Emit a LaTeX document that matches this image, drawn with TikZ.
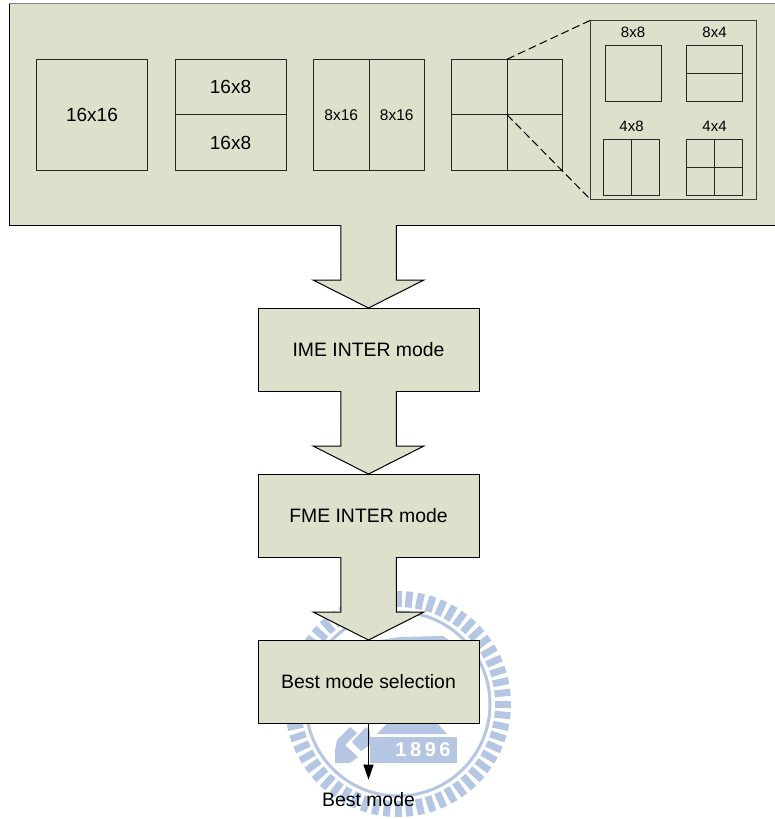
\documentclass[tikz,border=0pt]{standalone}
\usepackage{fontspec}
\setmainfont{Liberation Sans}
\newfontfamily\stampfont[LetterSpace=18]{Liberation Sans}
\usetikzlibrary{positioning, calc, arrows.meta}
\definecolor{panelgreen}{RGB}{221,225,203}
\definecolor{stampblue}{RGB}{180,198,226}

\begin{document}
\begin{tikzpicture}[
		x=1pt, y=-1pt,
		cell/.style={rectangle, draw=black!85, line width=1pt, fill=panelgreen, inner sep=0pt, outer sep=0pt},
		mainbox/.style={cell, minimum width=111pt, minimum height=111pt, font=\fontsize{19}{21}\selectfont},
		halfbox/.style={cell, minimum width=111pt, minimum height=55.5pt, font=\fontsize{19}{21}\selectfont},
		tallbox/.style={cell, minimum width=55.5pt, minimum height=111pt, font=\fontsize{15.5}{18}\selectfont},
		subbox/.style={cell, minimum width=56pt, minimum height=56pt},
		sublabel/.style={font=\fontsize{15}{17}\selectfont, inner sep=0pt},
		stage/.style={cell, draw=black, minimum width=221pt, minimum height=83pt, font=\fontsize{19.4}{22}\selectfont},
		blockarrow/.style={draw=black, line width=1pt, fill=panelgreen, line join=miter},
		tick/.style={stampblue, line width=7pt}
		]
		\useasboundingbox (0,0) rectangle (774,819);
		% Watermark behind the flow
		\foreach \a in {0,6,...,354} {
			\draw[tick] (398,704) ++(\a:97) -- ++(\a:16);
		}
		\draw[stampblue, line width=3pt] (398,704) circle (92);
		\fill[stampblue] (370,737) rectangle (457,763);
		\fill[stampblue] (377,734) -- (395,715) -- (430,715) -- (447,734) -- cycle;
		\fill[stampblue] (337,740) -- (350,727) -- (357,733) -- (345,745) -- (358,757) -- (350,763) -- (335,763) -- (335,750) -- cycle;
		\fill[stampblue] (352,742) -- (366,727) -- (370,731) -- (370,745) -- (361,751) -- cycle;
		\fill[stampblue] (380,640) -- (400,637) -- (443,636) -- (470,655) -- (385,655) -- cycle;
		\node[white, font=\stampfont\bfseries\fontsize{20}{22}\selectfont, inner sep=0pt] (year) at (423,749.5) {1896};
		% Top panel with the partitions
		\node[rectangle, draw=black, line width=1pt, fill=panelgreen, inner sep=0pt, outer sep=0pt, minimum width=775pt, minimum height=221.5pt] (panel) at (396.5,114.25) {};
		\draw[gray, line width=1.2pt] (panel.north west) -- (panel.north east);
		\node[mainbox] (whole) at (92,114.75) {16x16};
		\node[halfbox] (upper) at (230.5,87) {16x8};
		\node[halfbox, below=0pt of upper] (lower) {16x8};
		\node[tallbox] (lefthalf) at (341.25,114.75) {8x16};
		\node[tallbox, right=0pt of lefthalf] (righthalf) {8x16};
		\node[mainbox] (quad) at (507,114.75) {};
		\draw[cell] (quad.north) -- (quad.south);
		\draw[cell] (quad.west) -- (quad.east);
		% Zoomed partitions
		\node[cell, draw=black!75, minimum width=166pt, minimum height=178.5pt] (inset) at (673,109.75) {};
		\draw[dashed, line width=1pt, dash pattern=on 8pt off 4pt] (quad.north) -- (inset.north west);
		\draw[dashed, line width=1pt, dash pattern=on 8pt off 4pt] (quad.center) -- (inset.south west);
		\node[subbox] (sq) at (633,73) {};
		\node[subbox] (wide) at (714.5,73) {};
		\node[subbox] (narrow) at (631.5,167) {};
		\node[subbox] (small) at (714.5,167) {};
		\draw[cell] (wide.west) -- (wide.east);
		\draw[cell] (narrow.north) -- (narrow.south);
		\draw[cell] (small.north) -- (small.south);
		\draw[cell] (small.west) -- (small.east);
		\node[sublabel, above=7pt of sq] (sqlabel) {8x8};
		\node[sublabel, above=7pt of wide] (widelabel) {8x4};
		\node[sublabel, above=7pt of narrow] (narrowlabel) {4x8};
		\node[sublabel, above=7pt of small] (smalllabel) {4x4};
		% Flow stages
		\node[stage] (ime) at (368.5,349.5) {IME INTER mode};
		\node[stage] (fme) at (368.5,515.5) {FME INTER mode};
		\node[stage] (best) at (368.5,681.5) {Best mode selection};
		\node[font=\fontsize{19.4}{22}\selectfont, inner sep=0pt] (bestout) at (368.5,800) {Best mode};
		\coordinate (panelout) at (panel.south -| ime.north);
		\foreach \s/\t in {panelout/ime.north, ime.south/fme.north, fme.south/best.north} {
			\draw[blockarrow] (\s) ++(-27.75,0) -- ++(0,55) -- ++(-27.75,0) -- (\t)
				-- ($(\t)+(55.5,-28)$) -- ++(-27.75,0) -- ($(\s)+(27.75,0)$);
		}
		\draw[-{Triangle[width=10pt,length=15pt]}, line width=1pt, shorten >=13pt] (best.south) -- (bestout.north);
	\end{tikzpicture}
\end{document}
